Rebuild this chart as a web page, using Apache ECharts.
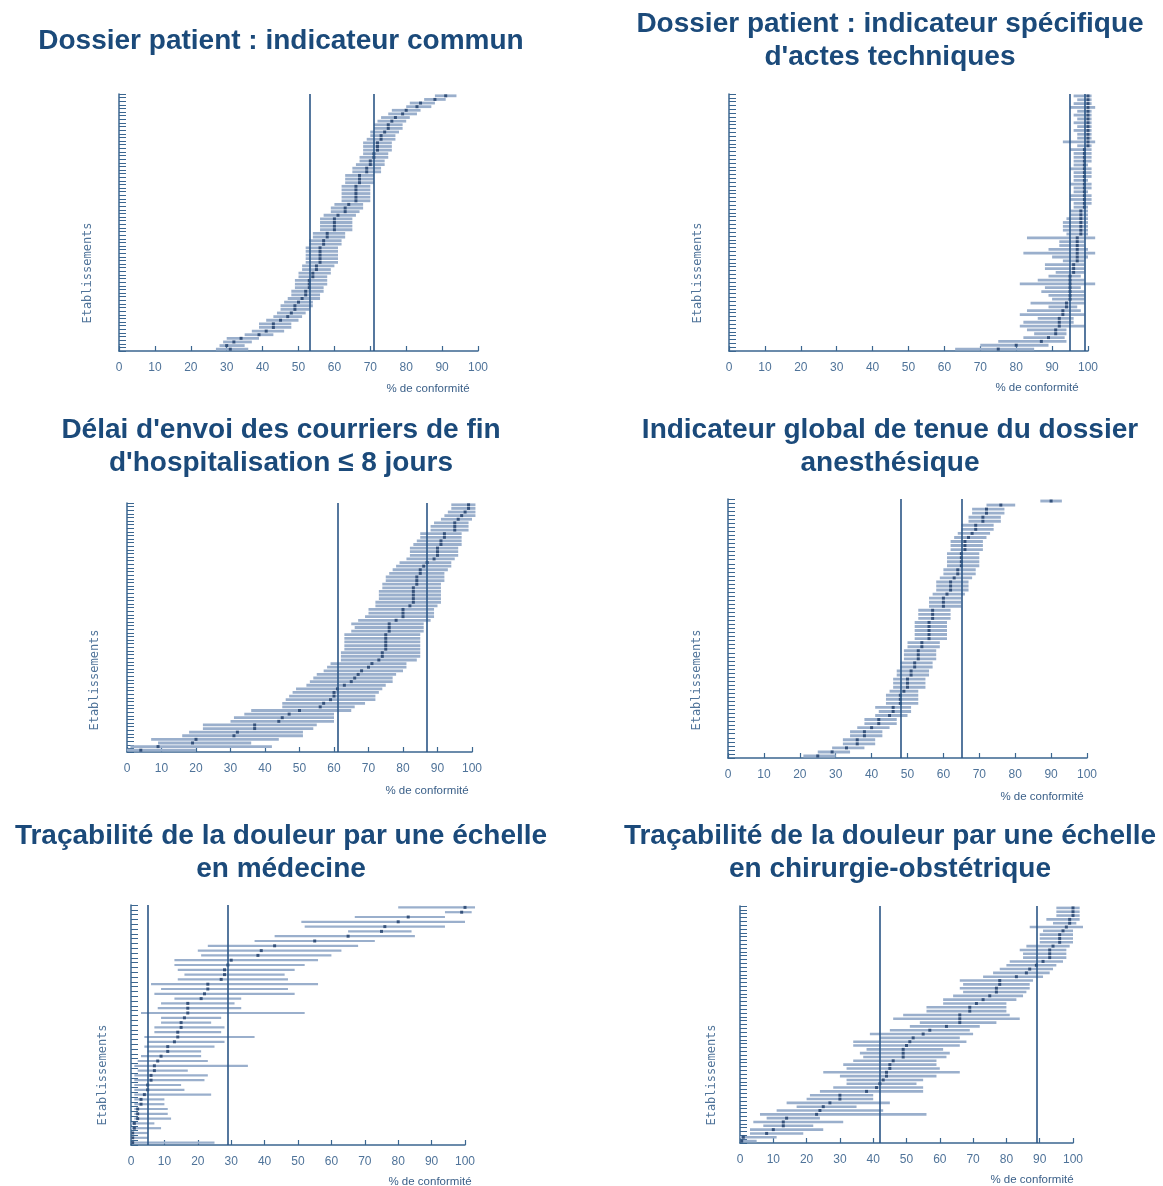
<!DOCTYPE html>
<html>
<head>
<meta charset="utf-8">
<script src="https://cdn.jsdelivr.net/npm/echarts@6/dist/echarts.min.js"></script>
<style>
html,body{margin:0;padding:0;background:#fff;}
#c{width:1163px;height:1186px;}
</style>
</head>
<body>
<div id="c"></div>
<script>
// ---- Data (establishments ordered bottom -> top) ----
const titles = [
  "Dossier patient : indicateur commun",
  "Dossier patient : indicateur spécifique\nd'actes techniques",
  "Délai d'envoi des courriers de fin\nd'hospitalisation ≤ 8 jours",
  "Indicateur global de tenue du dossier\nanesthésique",
  "Traçabilité de la douleur par une échelle\nen médecine",
  "Traçabilité de la douleur par une échelle\nen chirurgie-obstétrique"
];
const xTicks = [0, 10, 20, 30, 40, 50, 60, 70, 80, 90, 100];
const yAxisName = "Etablissements";
const xAxisName = "% de conformité";

const vals1 = [31,30,32,34,39,41,43,43,45,47,48,49,49,50,51,52,52,53,53,53,54,54,55,55,56,56,56,56,56,57,57,58,58,60,60,60,60,61,63,63,64,66,66,66,66,66,67,67,67,69,69,70,70,71,71,72,72,72,73,73,74,75,75,76,77,79,80,83,84,88,91];
const lo1 = [27,28,29,30,35,37,39,39,41,43,44,45,45,46,47,48,48,49,49,49,50,50,51,51,52,52,52,52,52,53,53,54,54,56,56,56,56,57,59,59,60,62,62,62,62,62,63,63,63,65,65,66,67,67,68,68,68,68,69,70,70,71,71,72,73,75,76,80,81,85,88];
const hi1 = [36,35,37,39,43,46,48,48,50,51,52,53,54,54,56,56,57,57,58,58,58,59,59,60,61,61,61,61,61,62,62,63,63,65,65,65,65,66,67,68,68,70,70,70,70,70,71,71,71,73,73,74,74,75,75,76,76,76,77,77,78,79,79,80,81,83,84,87,88,91,94];
const ref1 = [53, 71];

const vals2 = [75,80,87,89,91,91,92,92,92,93,93,94,94,95,95,95,95,95,95,95,96,96,96,97,97,97,97,97,97,97,98,98,98,98,98,98,98,99,99,99,99,99,99,99,99,99,99,99,99,99,99,99,99,100,100,100,100,100,100,100,100,100,100,100,100,100,100];
const lo2 = [63,70,75,82,85,83,81,82,86,81,83,89,84,90,89,87,88,81,86,89,91,88,88,93,90,82,89,92,92,83,94,93,93,93,94,95,95,96,96,95,95,96,96,95,96,96,96,95,96,96,96,96,95,97,93,97,97,96,97,96,97,96,97,95,96,97,96];
const hi2 = [85,89,94,93.5,94,94,99,96,96,99,98,97,99,99,99,99,98,102,99,98,99,99,99,99,100,102,100,99,99,102,100,100,100,100,100,100,100,100,101,101,101,100,101,101,100,101,101,101,100,101,101,101,101,101,102,101,101,101,101,101,101,101,101,102,101,101,101];
const ref2 = [95, 99];

const vals3 = [4,9,19,20,31,32,37,37,44,45,47,50,56,57,59,60,60,61,63,65,66,67,68,70,71,73,74,74,75,75,75,75,75,76,76,76,78,80,80,80,82,83,83,83,83,83,84,84,84,85,85,86,87,89,90,90,90,91,91,92,92,95,95,95,96,97,98,99,99];
const lo3 = [0,1,9,7,16,18,22,22,30,31,34,36,45,45,46,47,48,49,52,53,54,55,57,58,59,62,62,62,63,63,63,63,63,65,66,65,67,69,70,70,72,72,73,73,73,74,74,75,75,76,77,78,79,81,82,82,82,83,84,85,85,88,88,89,91,92,93,94,94];
const hi3 = [20,42,36,44,51,51,54,55,60,60,60,65,66,69,72,72,73,74,75,77,77,78,80,81,81,84,85,85,85,85,85,85,85,86,86,86,88,89,89,89,90,91,91,91,91,91,91,92,92,92,93,94,94,95,96,96,96,97,97,97,97,99,99,99,100,101,101,101,101];
const ref3 = [61, 87];

const vals4 = [25,29,33,36,36,38,38,40,42,42,45,46,46,48,48,48,49,50,50,50,51,51,52,52,53,53,53,54,54,56,56,56,56,56,57,57,57,60,60,60,61,62,62,62,63,64,64,65,65,65,65,66,66,66,67,68,69,69,71,71,72,72,76,90];
const lo4 = [21,25,29,32,32,34,34,36,38,38,41,42,41,44,44,44,45,46,46,46,47,47,48,48,49,49,49,50,50,52,52,52,52,52,53,53,53,56,56,56,57,58,58,58,59,60,60,61,61,61,61,62,62,62,63,64,65,65,67,67,68,68,72,87];
const hi4 = [30,34,38,41,41,43,43,45,47,47,50,51,51,53,53,53,53,55,55,55,56,56,57,57,58,58,58,59,59,61,61,61,61,61,62,62,62,65,65,65,66,67,67,67,68,69,69,70,70,70,70,71,71,71,72,73,74,74,76,76,77,77,80,93];
const ref4 = [48, 65];

const vals5 = [0.5,0.5,0.5,1,1,2,2,2,3,3,4,5,5,6,6,7,7,8,9,11,11,13,14,14,15,15,16,17,17,17,21,22,23,23,27,28,28,29,30,38,39,43,55,65,75,76,80,83,99,100];
const lo5 = [0,0,0,0,0,1,1,1,1,1,1,1,1,1,1,2,1,2,3,5,4,5,4,7,7,9,9,3,8,9,13,7,9,6,14,16,14,13,13,21,20,23,37,43,65,52,51,67,94,80];
const hi5 = [25,5,5,9,7,12,11,11,10,10,24,16,15,22,23,17,35,23,21,21,25,28,37,27,28,24,27,52,33,31,33,49,47,56,47,46,49,52,56,60,63,68,73,85,84,94,100,94,102,103];
const ref5 = [5, 29];

const vals6 = [0.5,1,8,10,13,13,14,23,24,25,27,30,30,38,41,42,43,44,44,45,45,46,49,49,49,50,51,52,55,57,62,66,66,66,69,69,71,73,75,77,77,78,78,83,86,87,89,91,93,93,93,94,96,96,96,97,98,99,99,100,100,100];
const lo6 = [0,0,3,3,7,4,8,6,11,17,14,20,21,24,28,32,32,30,25,32,31,34,37,36,38,34,34,42,39,45,51,54,46,49,56,56,61,61,64,67,66,67,66,73,76,78,80,81,85,85,84,86,90,90,90,91,87,94,92,95,95,95];
const hi6 = [5,11,19,25,22,31,24,56,43,35,45,40,40,55,55,53,55,59,66,60,59,59,62,63,61,66,68,66,70,69,72,77,84,81,80,80,80,83,85,86,87,87,88,91,93,94,95,97,98,98,98,99,100,100,100,100,103,101,102,102,102,102];
const ref6 = [42, 89];

// ---- Styling / layout ----
const TITLE_C = '#1b4a7a', BAR_C = '#9aafcc', PT_C = '#1a3a66', REF_C = '#2b5686', AXIS_C = '#3b6690', LBL_C = '#4f7399';

const panels = [
  {v: vals1, lo: lo1, hi: hi1, ref: ref1, grid: {left:119, top:94, width:359, height:257}, barH: 2.8,
   title: [281, 41], yName: [88, 273], xName: [428, 389]},
  {v: vals2, lo: lo2, hi: hi2, ref: ref2, grid: {left:729, top:94, width:359, height:257}, barH: 2.8,
   title: [890, 40.5], yName: [698, 273], xName: [1037, 388]},
  {v: vals3, lo: lo3, hi: hi3, ref: ref3, grid: {left:127, top:503, width:345, height:249}, barH: 2.8,
   title: [281, 446.5], yName: [95, 680], xName: [427, 791]},
  {v: vals4, lo: lo4, hi: hi4, ref: ref4, grid: {left:728, top:499, width:359, height:259}, barH: 2.9,
   title: [890, 446.5], yName: [697, 680], xName: [1042, 797]},
  {v: vals5, lo: lo5, hi: hi5, ref: ref5, grid: {left:131, top:905, width:334, height:240}, barH: 2.2,
   title: [281, 852.5], yName: [103, 1075], xName: [430, 1182]},
  {v: vals6, lo: lo6, hi: hi6, ref: ref6, grid: {left:740, top:906, width:333, height:237}, barH: 2.6,
   title: [890, 852.5], yName: [712, 1075], xName: [1032, 1180]}
];

const option = {
  animation: false,
  backgroundColor: '#ffffff',
  grid: [], xAxis: [], yAxis: [], series: [], graphic: []
};

panels.forEach((p, k) => {
  const cats = p.v.map((_, i) => String(i + 1));
  option.grid.push(Object.assign({containLabel: false}, p.grid));
  option.xAxis.push({
    type: 'value', gridIndex: k, min: xTicks[0], max: xTicks[xTicks.length - 1], interval: 10,
    axisLine: {show: true, lineStyle: {color: AXIS_C, width: 1.5}},
    axisTick: {show: true, inside: true, length: 5, lineStyle: {color: AXIS_C, width: 1.2}},
    axisLabel: {show: true, margin: 11, color: LBL_C, fontSize: 12, fontFamily: 'Liberation Sans'},
    splitLine: {show: false}
  });
  option.yAxis.push({
    type: 'category', gridIndex: k, data: cats,
    axisLine: {show: true, lineStyle: {color: AXIS_C, width: 1.5}},
    axisTick: {show: true, inside: true, length: 7, interval: 0, lineStyle: {color: AXIS_C, width: 1}},
    axisLabel: {show: false}, splitLine: {show: false}
  });
  const h = p.barH;
  option.series.push({
    type: 'custom', xAxisIndex: k, yAxisIndex: k, clip: false, z: 2,
    data: p.v.map((_, i) => [p.lo[i], p.hi[i], i]),
    encode: {x: [0, 1], y: 2},
    renderItem: (params, api) => {
      const idx = api.value(2);
      const a = api.coord([api.value(0), idx]);
      const b = api.coord([api.value(1), idx]);
      return {type: 'rect', shape: {x: a[0], y: a[1] - h / 2, width: b[0] - a[0], height: h},
              style: {fill: BAR_C}};
    }
  });
  option.series.push({
    type: 'scatter', xAxisIndex: k, yAxisIndex: k, z: 4,
    symbol: 'rect', symbolSize: [3, 3], itemStyle: {color: PT_C},
    data: p.v.map((v, i) => [v, i]),
    markLine: {
      silent: true, symbol: ['none', 'none'], label: {show: false},
      lineStyle: {color: REF_C, width: 1.6, type: 'solid'},
      data: p.ref.map(r => ({xAxis: r}))
    }
  });
  option.graphic.push({
    type: 'text', x: p.title[0], y: p.title[1], z: 10,
    style: {text: titles[k], fill: TITLE_C, font: 'bold 28px "Liberation Sans", Arial, sans-serif',
            textAlign: 'center', textVerticalAlign: 'middle', lineHeight: 33}
  });
  option.graphic.push({
    type: 'text', x: p.yName[0], y: p.yName[1], rotation: Math.PI / 2, z: 10,
    style: {text: yAxisName, fill: LBL_C, font: '12px "DejaVu Sans Mono", monospace',
            textAlign: 'center', textVerticalAlign: 'middle'}
  });
  option.graphic.push({
    type: 'text', x: p.xName[0], y: p.xName[1], z: 10,
    style: {text: xAxisName, fill: '#3a5f88', font: '11.5px "Liberation Sans", Arial, sans-serif',
            textAlign: 'center', textVerticalAlign: 'middle'}
  });
});

const chart = echarts.init(document.getElementById('c'), null, {renderer: 'canvas'});
chart.setOption(option);
</script>
</body>
</html>
